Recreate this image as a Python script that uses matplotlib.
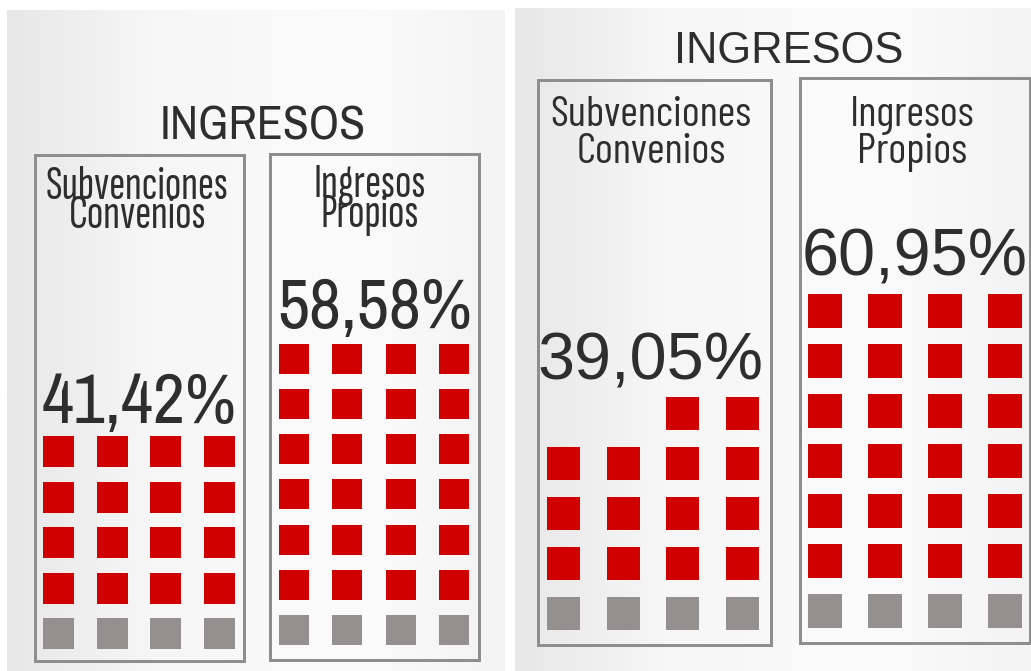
import matplotlib
matplotlib.use("Agg")
import numpy as np
import matplotlib.pyplot as plt
from matplotlib.patches import Rectangle
from matplotlib.textpath import TextPath
from matplotlib.font_manager import FontProperties, findfont
from matplotlib.colors import LinearSegmentedColormap

# ---------------- data ----------------
panel_titles = ["INGRESOS", "INGRESOS"]
categories = [["Subvenciones", "Convenios"], ["Ingresos", "Propios"]]
pct_panel1 = [41.42, 58.58]
pct_panel2 = [39.05, 60.95]
red_panel1 = [16, 24]
red_panel2 = [14, 24]
gray_per_box = [4, 4]
n_cols = 4

# ---------------- style ----------------
RED = "#d00000"
GRAY_SQ = "#949090"
BORDER = "#8e8e8e"
TXT = "#2e2e2e"
W, H, DPI = 1031, 671, 100

fig = plt.figure(figsize=(W / DPI, H / DPI), dpi=DPI)
ax = fig.add_axes([0, 0, 1, 1])
ax.set_xlim(0, W)
ax.set_ylim(H, 0)
ax.axis("off")
fig.patch.set_facecolor("white")
renderer = fig.canvas.get_renderer()


def available(names):
    out = []
    for f in names:
        try:
            findfont(FontProperties(family=f), fallback_to_default=False)
            out.append(f)
        except Exception:
            pass
    return out or ["DejaVu Sans"]


MAIN_POOL = available(["Liberation Sans", "Roboto Condensed", "Archivo Narrow"])
SUB_POOL = available(["Roboto Condensed", "Archivo Narrow", "Sofia Sans Condensed",
                      "Sofia Sans Extra Condensed", "Barlow Condensed",
                      "Fira Sans Extra Condensed"])


def ink(s, fam):
    tp = TextPath((0, 0), s, size=100, prop=FontProperties(family=fam))
    e = tp.get_extents()
    return e.x0, e.width, e.height


def fit(ref, tw, th, pool, refglyph="H"):
    best = None
    for fam in pool:
        _, w100, _ = ink(ref, fam)
        _, _, h100 = ink(refglyph, fam)
        F = 72.0 * tw / w100
        cap = h100 * F / 72.0
        err = abs(cap - th)
        if best is None or err < best[0]:
            best = (err, fam, F)
    return best[1], best[2]


def put(s, cx, base, fam, F, color=TXT):
    x0, w100, _ = ink(s, fam)
    wpx = w100 * F / 72.0
    x0px = x0 * F / 72.0
    ax.text(cx - wpx / 2 - x0px, base, s, ha="left", va="baseline",
            fontsize=F, family=fam, color=color, zorder=5)


def line_pitch(text, fam, F, ls):
    t = ax.text(0, 0, text, fontsize=F, family=fam, linespacing=ls,
                ha="center", va="baseline", multialignment="center")
    _, info, _ = t._get_layout(renderer)
    t.remove()
    return abs(info[0][3] - info[1][3])


def put_two(lines, cx, base1, base2, fam, F, color=TXT):
    # one two-line text; va="baseline" anchors the LAST line's baseline
    text = "\n".join(lines)
    target = base2 - base1
    try:
        p0 = line_pitch(text, fam, F, 0.5)
        p1 = line_pitch(text, fam, F, 1.5)
        ls = 0.5 + (target - p0) / (p1 - p0)
    except Exception:
        prop = FontProperties(family=fam, size=F)
        lp_h, _, lp_d = renderer.get_text_width_height_descent("lp", prop, ismath=False)
        ls = max(target - lp_d, 1.0) / (lp_h - lp_d)
    ax.text(cx, base2, text, ha="center", va="baseline",
            multialignment="center", linespacing=ls,
            fontsize=F, family=fam, color=color, zorder=5)


def fmt(v):
    return f"{v:.2f}".replace(".", ",") + "%"


# ---------------- backgrounds ----------------
bg_cmap = LinearSegmentedColormap.from_list(
    "bg", [(0.0, "#e7e7e7"), (0.28, "#f6f6f6"), (0.7, "#fbfbfb"), (1.0, "#f3f3f3")])
grad = np.linspace(0, 1, 256).reshape(1, -1)
panel_bg = [(7, 505, 10, H), (515, W, 8, H)]
for (x0, x1, y0, y1) in panel_bg:
    ax.imshow(grad, cmap=bg_cmap, vmin=0, vmax=1, aspect="auto",
              extent=(x0, x1, y1, y0), zorder=0, interpolation="bilinear")

# ---------------- layout per panel ----------------
panels = [
    dict(title=(263, 140, 200, 32),
         pcts=pct_panel1, reds=red_panel1,
         boxes=[dict(rect=(35, 155, 243.5, 661), col0=43, cpitch=53.7, sq=31,
                     gray_top=618, rpitch=45.5, lab=(137.5, 199, 228), pct=(138.5, 423)),
                dict(rect=(270, 153.5, 478.5, 660), col0=279, cpitch=53.4, sq=30,
                     gray_top=615, rpitch=45.2, lab=(369.5, 197, 227), pct=(374.5, 328))],
         sub_ref=(180, 31), pct_ref=(191, 48)),
    dict(title=(790.5, 63, 224, 32),
         pcts=pct_panel2, reds=red_panel2,
         boxes=[dict(rect=(538, 80, 771, 645), col0=547, cpitch=59.6, sq=33,
                     gray_top=597, rpitch=50, lab=(651, 126, 163), pct=(650.5, 380)),
                dict(rect=(800, 78, 1030, 643), col0=808, cpitch=60, sq=34,
                     gray_top=594, rpitch=50, lab=(912, 126, 163), pct=(915, 276))],
         sub_ref=(198, 31), pct_ref=(221, 48)),
]

for p_i, (panel, ptitle) in enumerate(zip(panels, panel_titles)):
    tx, tb, tw, th = panel["title"]
    fam, F = fit(ptitle, tw, th, MAIN_POOL)
    put(ptitle, tx, tb, fam, F)

    sfam, sF = fit(categories[0][0], panel["sub_ref"][0], panel["sub_ref"][1], SUB_POOL)
    pfam, pF = fit(fmt(panel["pcts"][0]), panel["pct_ref"][0], panel["pct_ref"][1],
                   MAIN_POOL, "0")

    for b_i, box in enumerate(panel["boxes"]):
        x0, y0, x1, y1 = box["rect"]
        ax.add_patch(Rectangle((x0, y0), x1 - x0, y1 - y0, fill=False,
                               ec=BORDER, lw=3 * 72 / DPI, zorder=3))
        cx, b1, b2 = box["lab"]
        put_two(categories[b_i], cx, b1, b2, sfam, sF)
        put(fmt(panel["pcts"][b_i]), box["pct"][0], box["pct"][1], pfam, pF)

        # squares: gray bottom row, red rows stacked upward, partial row right-aligned
        n_red = panel["reds"][b_i]
        n_gray = gray_per_box[b_i]
        cells = [GRAY_SQ] * n_gray + [RED] * n_red
        for k, col in enumerate(cells):
            row = k // n_cols
            in_row = k % n_cols
            row_count = min(n_cols, len(cells) - row * n_cols)
            c = (n_cols - row_count) + in_row
            xs = box["col0"] + c * box["cpitch"]
            ys = box["gray_top"] - row * box["rpitch"]
            ax.add_patch(Rectangle((xs, ys), box["sq"], box["sq"], fc=col,
                                   ec="none", zorder=4))

fig.savefig("out.png", dpi=DPI)
